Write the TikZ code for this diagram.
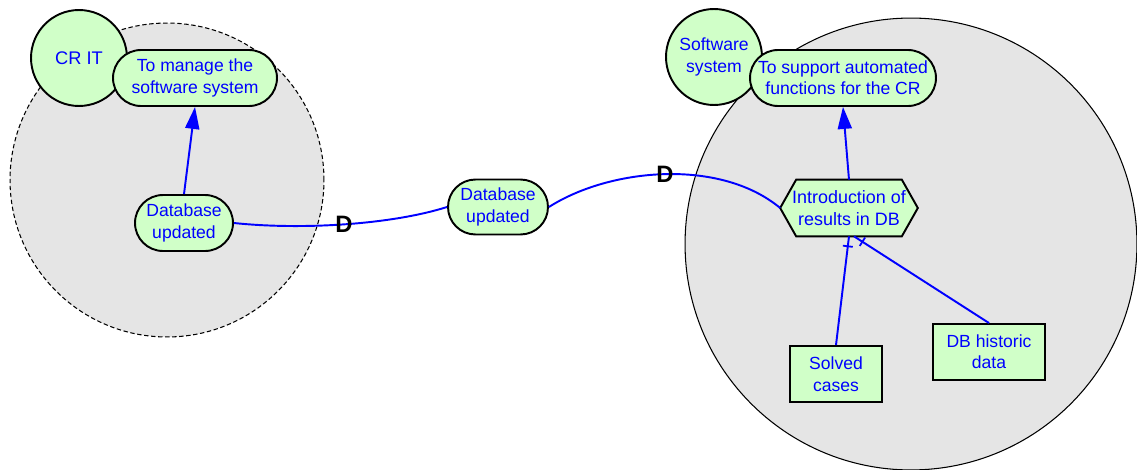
\documentclass[tikz,border=0pt]{standalone}
\usepackage{fontspec}
\setmainfont{Liberation Sans}
\usetikzlibrary{arrows.meta,shapes.misc,decorations.markings}

\definecolor{goalgreen}{RGB}{208,255,200}
\definecolor{boundgray}{RGB}{229,229,229}
\definecolor{linkblue}{RGB}{0,0,255}

\tikzset{
  boundary/.style={circle, fill=boundgray, draw=black, line width=0.6pt, inner sep=0pt},
  actor/.style={circle, fill=goalgreen, draw=black, line width=1.1pt, inner sep=0pt,
    minimum size=1.92cm, text=linkblue, align=center, font=\fontsize{10}{12.2}\selectfont},
  softgoal/.style={rounded rectangle, fill=goalgreen, draw=black, line width=1.1pt, inner sep=0pt,
    text=linkblue, align=center, font=\fontsize{10}{12.2}\selectfont},
  resource/.style={rectangle, fill=goalgreen, draw=black, line width=1.1pt, inner sep=0pt,
    text=linkblue, align=center, font=\fontsize{10}{12.2}\selectfont},
  taskframe/.style={rectangle, inner sep=0pt, minimum width=2.74cm, minimum height=1.12cm},
  tasklabel/.style={text=linkblue, align=center, inner sep=0pt, font=\fontsize{10.2}{12.2}\selectfont},
  link/.style={draw=linkblue, line width=1.1pt},
  contrib/.style={link, -{Triangle[length=12.5pt,width=8pt]}},
  depmark/.style={font=\bfseries\fontsize{13.5}{14}\selectfont, text=black, inner sep=0pt},
  decomp/.style={link, postaction={decorate}, decoration={markings,
    mark=at position 0.2cm with {\draw[linkblue, line width=1pt] (0,-0.1cm) -- (0,0.1cm);}}}
}

\begin{document}
\begin{tikzpicture}[x=0.02cm, y=-0.02cm]
\useasboundingbox (0,0) rectangle (1137,470);

% actor boundaries
\node[boundary, dashed, dash pattern=on 2.5pt off 1.5pt, minimum size=6.28cm] (bndL) at (167,180) {};
\node[boundary, minimum size=9.04cm] (bndR) at (911,244) {};

% actors
\node[actor, font=\fontsize{10.4}{12}\selectfont] (crit) at (79,58) {CR IT};
\node[actor] (soft) at (714,57) {Software\\system};

% goals and resources
\node[softgoal, minimum width=3.28cm, minimum height=1.12cm] (manage) at (195,78) {To manage the\\software system};
\node[softgoal, minimum width=1.96cm, minimum height=1.12cm] (dbL) at (184,223) {Database\\updated};
\node[softgoal, minimum width=2.0cm, minimum height=1.1cm] (dbM) at (498,207) {Database\\updated};
\node[softgoal, minimum width=3.72cm, minimum height=1.12cm] (support) at (843,78) {To support automated\\functions for the CR};
\node[resource, minimum width=1.84cm, minimum height=1.12cm] (solved) at (836,374) {Solved\\cases};
\node[resource, minimum width=2.24cm, minimum height=1.12cm] (hist) at (989,352) {DB historic\\data};

% task (hexagon)
\node[taskframe] (hex) at (849,208) {};
\filldraw[fill=goalgreen, draw=black, line width=1.1pt]
  (hex.west) -- ([xshift=0.32cm]hex.north west) -- ([xshift=-0.32cm]hex.north east)
  -- (hex.east) -- ([xshift=-0.32cm]hex.south east) -- ([xshift=0.32cm]hex.south west) -- cycle;
\node[tasklabel] (hextext) at (hex) {Introduction of\\results in DB};

% contributions
\draw[contrib] (dbL.north) -- (manage.south);
\draw[contrib] (hex.north) -- (support.south);

% dependency
\draw[link] (dbL.east) .. controls (300,230) and (390,225) .. (dbM.west)
  node[depmark, pos=0.5] (dep1) {D};
\draw[link] (dbM.east) .. controls (610,168) and (720,158) .. (hex.west)
  node[depmark, pos=0.5] (dep2) {D};

% decomposition
\draw[decomp] (hex.south) -- (solved.north);
\draw[decomp] ([xshift=0.1cm]hex.south) -- (hist.north);
\end{tikzpicture}
\end{document}
